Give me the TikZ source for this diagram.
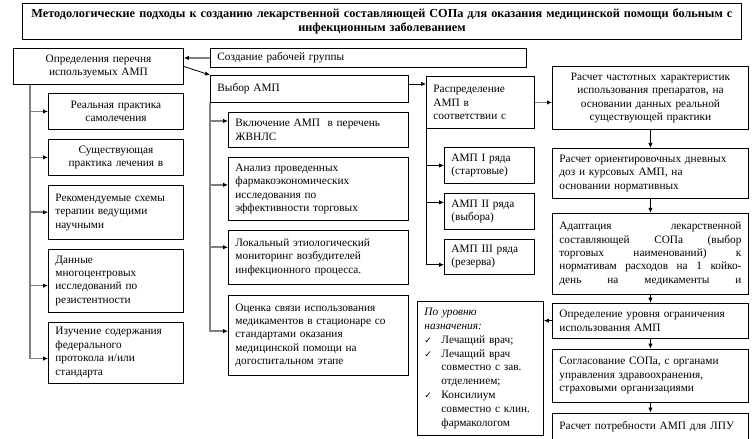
\documentclass[tikz,border=0pt]{standalone}
\usepackage{fontspec}
\setmainfont{Liberation Serif}
\newfontfamily\symfont{DejaVu Sans}
\usetikzlibrary{arrows.meta, positioning, calc}

\newcommand{\chk}{\makebox[17pt][l]{\symfont\small ✓}}
\newcommand{\jline}[1]{\makebox[182pt][l]{#1}}

\begin{document}
\begin{tikzpicture}[
    x=1pt, y=-1pt,
    box/.style={draw, line width=0.9pt, inner xsep=7pt, inner ysep=2pt,
                align=left, anchor=north west,
                font=\fontsize{11.3}{13.4}\selectfont},
    gline/.style={draw=gray, line width=1.6pt,
                  -{Latex[black, length=5pt, width=4.5pt]}},
    bline/.style={draw=black, line width=0.8pt,
                  -{Latex[length=5pt, width=4.5pt]}}
  ]
  \useasboundingbox (0,0) rectangle (753,439);

  % title
  \node[box, inner xsep=2pt, text width=715pt, minimum height=36pt, align=center,
        font=\fontsize{12.25}{14}\selectfont\bfseries] (title) at (22,3)
    {Методологические подходы к созданию лекарственной составляющей СОПа для оказания медицинской помощи больным с\\инфекционным заболеванием};

  % top row
  \node[box, text width=156pt, minimum height=36pt, align=center] (opr) at (13,48)
    {Определения перечня\\используемых АМП};
  \node[box, text width=302pt, minimum height=19pt] (sozd) at (210,48)
    {Создание рабочей группы};
  \node[box, text width=184pt, minimum height=27pt] (vybor) at (210,75)
    {Выбор АМП};
  \node[box, text width=94pt, minimum height=52pt] (raspr) at (426,76)
    {Распределение\\АМП в\\соответствии с};

  % left column
  \node[box, text width=121pt, minimum height=36pt, align=center] (real) at (48,93)
    {Реальная практика\\самолечения};
  \node[box, text width=121pt, minimum height=36pt, align=center, below=9pt of real] (sush)
    {Существующая\\практика лечения в};
  \node[box, text width=121pt, minimum height=54pt, below=9pt of sush] (rekom)
    {Рекомендуемые схемы\\терапии ведущими\\научными};
  \node[box, text width=121pt, minimum height=63pt, below=9pt of rekom] (dann)
    {Данные\\многоцентровых\\исследований по\\резистентности};
  \node[box, text width=121pt, minimum height=61pt, below=9pt of dann] (izuch)
    {Изучение содержания\\федерального\\протокола и/или\\стандарта};

  % middle column
  \node[box, text width=166pt, minimum height=35pt] (vkl) at (228,112)
    {Включение АМП~ в перечень\\ЖВНЛС};
  \node[box, text width=166pt, minimum height=63pt, below=9pt of vkl] (anal)
    {Анализ проведенных\\фармакоэкономических\\исследования по\\эффективности торговых};
  \node[box, text width=166pt, minimum height=54pt, below=9pt of anal] (lok)
    {Локальный этиологический\\мониторинг возбудителей\\инфекционного процесса.};
  \node[box, text width=166pt, minimum height=80pt, below=10pt of lok] (ocen)
    {Оценка связи использования\\медикаментов в стационаре со\\стандартами оказания\\медицинской помощи на\\догоспитальном этапе};

  % rows of AMP
  \node[box, text width=76pt, minimum height=36pt] (ryad1) at (444,147)
    {АМП I ряда\\(стартовые)};
  \node[box, text width=76pt, minimum height=36pt, below=9pt of ryad1] (ryad2)
    {АМП II ряда\\(выбора)};
  \node[box, text width=76pt, minimum height=35pt, below=9pt of ryad2] (ryad3)
    {АМП III ряда\\(резерва)};

  % right column
  \node[box, text width=182pt, minimum height=63pt, align=center] (chast) at (552,66)
    {Расчет частотных характеристик\\использования препаратов, на\\основании данных реальной\\существующей практики};
  \node[box, text width=182pt, minimum height=50pt, below=18pt of chast] (orient)
    {Расчет ориентировочных дневных\\доз и курсовых АМП, на\\основании нормативных};
  \node[box, text width=182pt, minimum height=81pt, below=14pt of orient] (adapt)
    {\jline{Адаптация\hfill{} лекарственной}\\
     \jline{составляющей\hfill{} СОПа\hfill{} (выбор}\\
     \jline{торговых\hfill{} наименований)\hfill{} к}\\
     \jline{нормативам\hfill{} расходов\hfill{} на\hfill{} 1\hfill{} койко-}\\
     \jline{день\hfill{} на\hfill{} медикаменты\hfill{} и}};
  \node[box, text width=182pt, minimum height=35pt, below=8pt of adapt] (opred)
    {Определение уровня ограничения\\использования АМП};
  \node[box, text width=182pt, minimum height=53pt, below=10pt of opred] (soglas)
    {Согласование СОПа, с органами\\управления здравоохранения,\\страховыми организациями};
  \node[box, text width=182pt, minimum height=27pt, below=10pt of soglas] (potreb)
    {Расчет потребности АМП для ЛПУ};

  % levels
  \node[box, text width=112pt, minimum height=134pt,
        font=\fontsize{11.3}{13.8}\selectfont] (uroven) at (417,301)
    {\textit{По уровню}\\\textit{назначения:}\\
     \chk Лечащий врач;\\
     \chk Лечащий врач\\
     \hspace*{17pt}совместно с зав.\\
     \hspace*{17pt}отделением;\\
     \chk Консилиум\\
     \hspace*{17pt}совместно с клин.\\
     \hspace*{17pt}фармакологом};

  % connectors
  \draw[gline] (sozd.west) -- (sozd.west -| opr.east);
  \draw[bline] (opr.east) -- (vybor.north west);
  \coordinate (lbus) at ($(opr.south west)+(17,0)$);
  \foreach \n/\dy in {real/0, sush/0, rekom/0, dann/5, izuch/6}
    \draw[gline] (lbus) |- ($(\n.west)+(0,\dy)$);
  \foreach \n/\dy in {vkl/-9, anal/-4, lok/-10, ocen/-4}
    \draw[gline] (vybor.south west) |- ($(\n.west)+(0,\dy)$);
  \coordinate (vr) at ($(vybor.east)+(0,-5)$);
  \draw[bline] (vr) -- (vr -| raspr.west);
  \foreach \n/\dy in {ryad1/0, ryad2/-9, ryad3/8}
    \draw[bline] (raspr.south west) |- ($(\n.west)+(0,\dy)$);
  \draw[gline] (raspr.east) -- (raspr.east -| chast.west);
  \foreach \a/\b in {chast/orient, orient/adapt, adapt/opred, opred/soglas, soglas/potreb}
    \draw[bline] (\a.south) -- (\b.north);
  \draw[bline] (opred.west) -- (opred.west -| uroven.east);
\end{tikzpicture}
\end{document}
